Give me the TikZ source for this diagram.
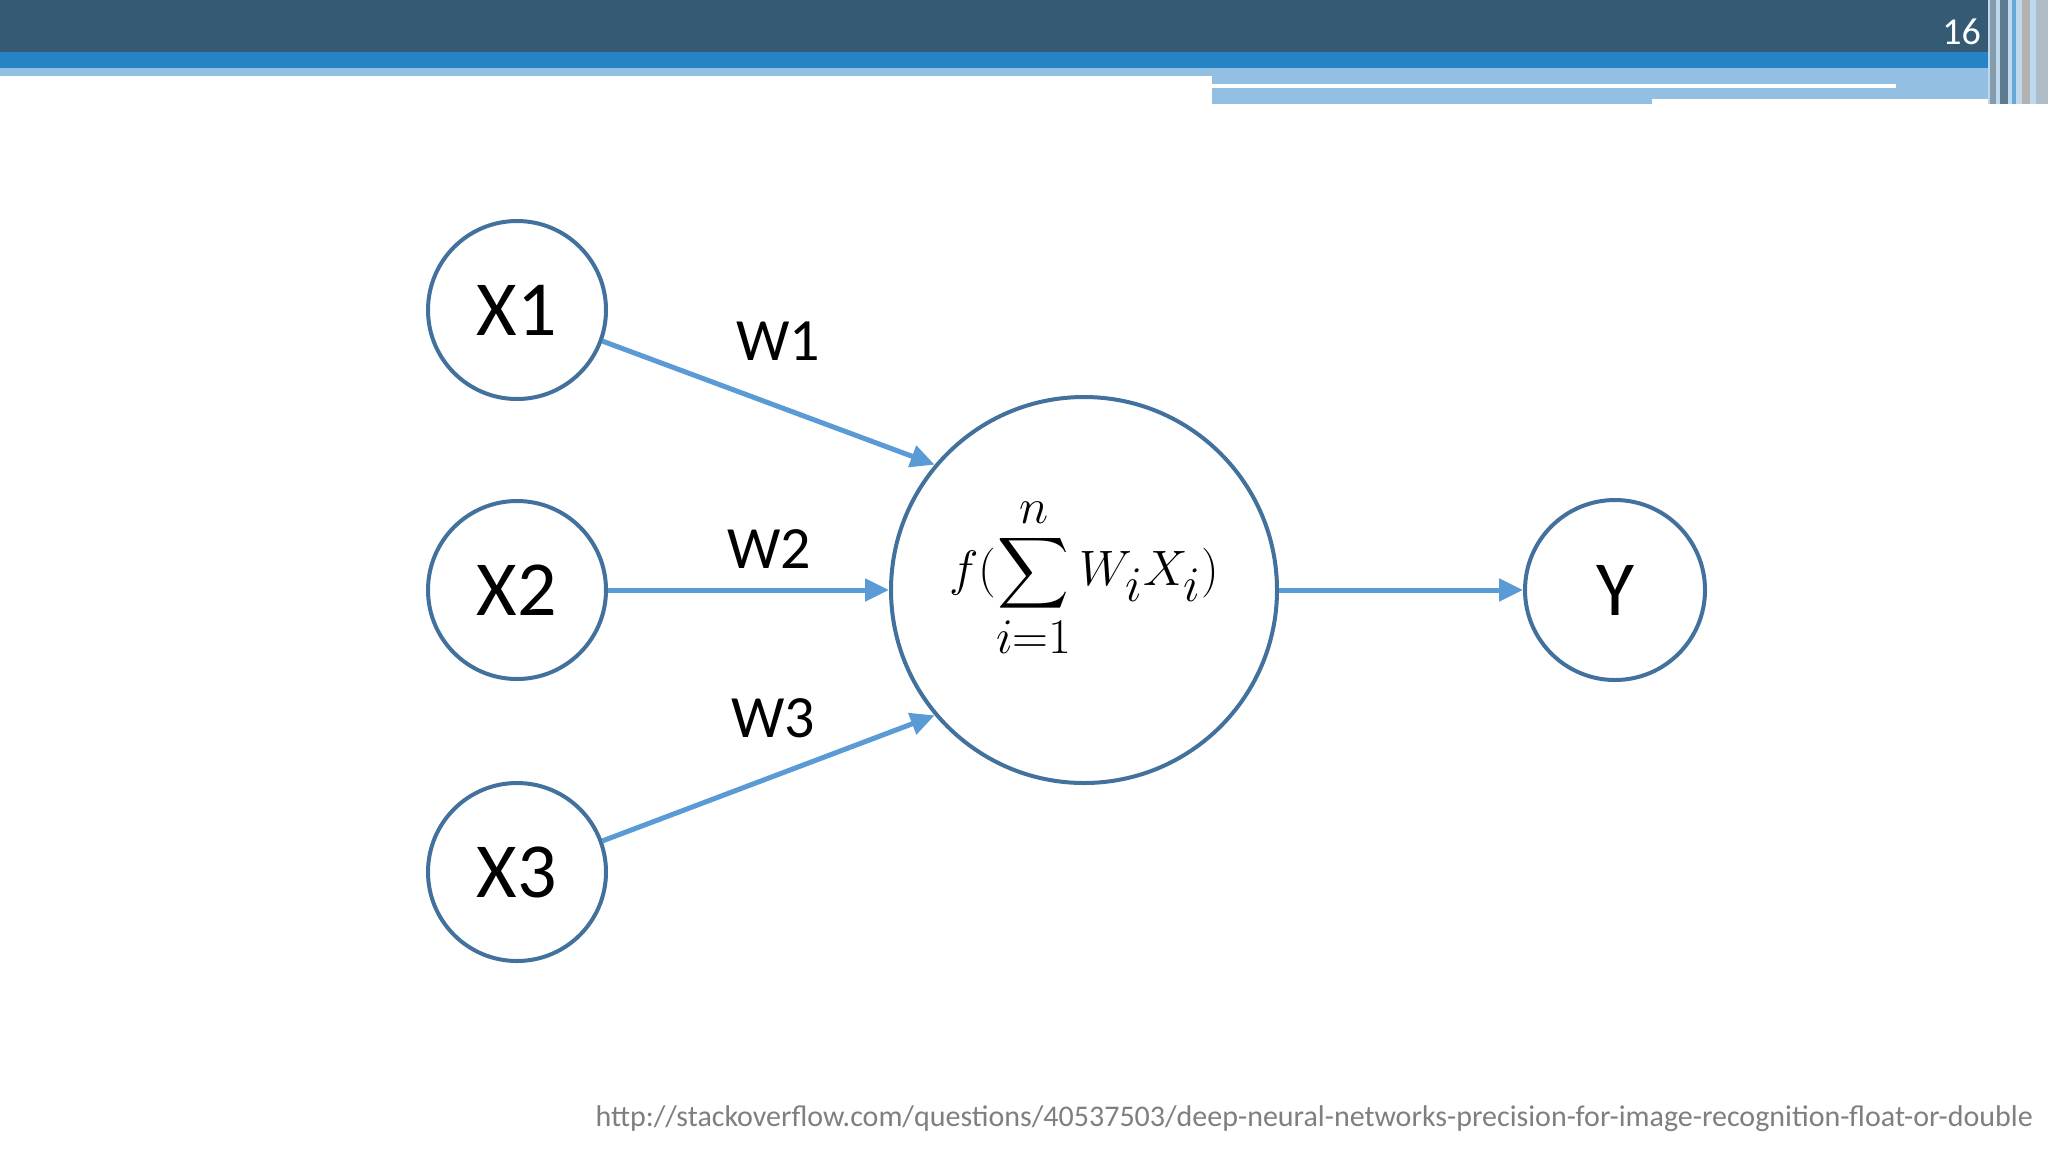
\documentclass[tikz,border=0pt]{standalone}
\usepackage{fontspec}
\setmainfont{Carlito}
\usepackage{amsmath}
\definecolor{hdark}{HTML}{345A74}
\definecolor{hblue}{HTML}{2683C6}
\definecolor{hlight}{HTML}{93C0E2}
\definecolor{circ}{HTML}{41719C}
\definecolor{arr}{HTML}{5B9BD5}
\definecolor{urlc}{HTML}{7F7F7F}
\usetikzlibrary{arrows.meta}
\tikzset{
 neuron/.style={circle,draw=circ,line width=2pt,fill=white,inner sep=0pt},
 conn/.style={draw=arr,line width=2.5pt,-{Triangle[length=12pt,width=11pt]}},
 wlab/.style={font=\fontsize{30}{30}\selectfont,text=black},
 xlab/.style={font=\fontsize{39}{39}\selectfont}
}
\begin{document}
\begin{tikzpicture}[x=0.5pt,y=-0.5pt]
\useasboundingbox (0,0) rectangle (2048,1152);
\fill[white] (0,0) rectangle (2048,1152);
% header
\fill[hdark] (0,0) rectangle (2048,52);
\fill[hblue] (0,52) rectangle (2048,68);
\fill[hlight] (0,68) rectangle (1212,76);
\fill[hlight] (1212,68) rectangle (2011,104);
\fill[white] (1212,84) rectangle (1896,88);
\fill[white] (1652,99) rectangle (2011,104);
\fill[hlight!60] (1988,0) rectangle (2048,104);
\fill[hdark!60!white] (1990,0) rectangle (1996,104);
\fill[hdark!80] (2000,0) rectangle (2008,104);
\fill[hblue!70!white] (2012,0) rectangle (2016,104);
\fill[gray!60] (2022,0) rectangle (2030,104);
\fill[hdark!40!white] (2036,0) rectangle (2048,104);
\node[anchor=east,text=white,font=\fontsize{19}{19}\selectfont] (pg) at (1988,32) {16};
% nodes
\node[neuron,minimum size=89pt] (X1) at (517,310) {};
\node[xlab] at (X1) {X1};
\node[neuron,minimum size=89pt] (X2) at (517,590) {};
\node[xlab] at (X2) {X2};
\node[neuron,minimum size=89pt] (X3) at (517,872) {};
\node[xlab] at (X3) {X3};
\node[neuron,minimum size=193pt] (N) at (1084,590) {};
\node[font=\fontsize{48}{48}\selectfont] (F) at (1084,578) {$\displaystyle f(\sum_{i=1}^{n} W_iX_i)$};
\node[neuron,minimum size=90pt] (Y) at (1615,590) {};
\node[xlab] at (Y) {Y};
% connectors
\draw[conn] (X1.-20) -- (N.140);
\draw[conn] (X2.east) -- (N.west);
\draw[conn] (X3.20) -- (N.220);
\draw[conn] (N.east) -- (Y.west);
\node[wlab] (w1) at (778,341) {W1};
\node[wlab] (w2) at (769,549) {W2};
\node[wlab] (w3) at (773,718) {W3};
\node[anchor=base east,text=urlc,font=\fontsize{15}{15}\selectfont] (url) at (2040,1126) {http://stackoverflow.com/questions/40537503/deep-neural-networks-precision-for-image-recognition-float-or-double};
\end{tikzpicture}
\end{document}
